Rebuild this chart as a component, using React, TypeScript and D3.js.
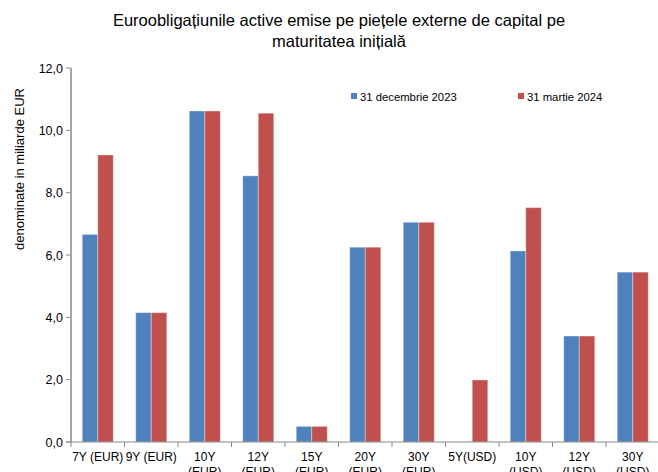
import React from "react";
import * as d3 from "d3";

const categories = ["7Y (EUR)", "9Y (EUR)", "10Y (EUR)", "12Y (EUR)", "15Y (EUR)", "20Y (EUR)", "30Y (EUR)", "5Y(USD)", "10Y (USD)", "12Y (USD)", "30Y (USD)"];
const categoryLines = [["7Y (EUR)"], ["9Y (EUR)"], ["10Y", "(EUR)"], ["12Y", "(EUR)"], ["15Y", "(EUR)"], ["20Y", "(EUR)"], ["30Y", "(EUR)"], ["5Y(USD)"], ["10Y", "(USD)"], ["12Y", "(USD)"], ["30Y", "(USD)"]];
const seriesNames = ["31 decembrie 2023", "31 martie 2024"];
const dec2023 = [6.66, 4.15, 10.62, 8.54, 0.5, 6.25, 7.05, 0, 6.13, 3.4, 5.45];
const mar2024 = [9.21, 4.15, 10.62, 10.55, 0.5, 6.25, 7.05, 1.99, 7.52, 3.4, 5.45];
const yTicks = [0, 2, 4, 6, 8, 10, 12];
const colors = ["#4F81BD", "#C0504D"];
const titleLines = ["Euroobligațiunile active emise pe piețele externe de capital pe", "maturitatea inițială"];
const yTitle = "denominate in miliarde EUR";

export default function App() {
  const W = 658, H = 472;
  const left = 71, right = 659.5, top = 68, bottom = 442;
  const font = "'Liberation Sans', Arial, sans-serif";
  const x0 = d3.scaleBand<string>().domain(categories).range([left, right]).paddingInner(0).paddingOuter(0);
  const x1 = d3.scaleBand<string>().domain(seriesNames).range([0, x0.bandwidth()]).paddingInner(0).paddingOuter(0.726);
  const y = d3.scaleLinear().domain([0, 12]).range([bottom, top]);
  const data = [dec2023, mar2024];
  const fmt = (v: number) => v.toFixed(1).replace(".", ",");
  const boundaries = categories.map((c) => x0(c)!).concat([right]);

  return (
    <svg width={W} height={H} style={{ position: "absolute", left: 0, top: 0, background: "#fff" }} fontFamily={font}>
      {titleLines.map((t, i) => (
        <text key={i} x={339} y={26 + i * 21} textAnchor="middle" fontSize={16.5} fill="#000">{t}</text>
      ))}
      <text transform={`translate(24,${169}) rotate(-90)`} textAnchor="middle" fontSize={13} fill="#000">{yTitle}</text>
      {yTicks.map((t) => (
        <g key={t}>
          <line x1={left - 5} x2={left} y1={y(t)} y2={y(t)} stroke="#888" strokeWidth={1} />
          <text x={left - 8} y={y(t) + 4.5} textAnchor="end" fontSize={12.5} fill="#000">{fmt(t)}</text>
        </g>
      ))}
      {categories.map((c, ci) => (
        <g key={c}>
          {seriesNames.map((s, si) => {
            const v = data[si][ci];
            if (v <= 0) return null;
            return (
              <rect key={s} x={x0(c)! + x1(s)!} y={y(v)} width={x1.bandwidth()} height={y(0) - y(v)}
                fill={colors[si]} stroke="rgba(255,255,255,0.35)" strokeWidth={1} />
            );
          })}
        </g>
      ))}
      <line x1={left} x2={left} y1={top} y2={bottom} stroke="#a6a6a6" strokeWidth={2} />
      <line x1={left - 5} x2={right} y1={bottom} y2={bottom} stroke="#888" strokeWidth={1} />
      {boundaries.map((b, i) => (
        <line key={i} x1={b} x2={b} y1={bottom} y2={bottom + 5} stroke="#888" strokeWidth={1} />
      ))}
      {categories.map((c, ci) => (
        <text key={c} x={x0(c)! + x0.bandwidth() / 2} y={461} textAnchor="middle" fontSize={12} fill="#000">
          {categoryLines[ci].map((l, li) => (
            <tspan key={li} x={x0(c)! + x0.bandwidth() / 2} dy={li === 0 ? 0 : 15}>{l}</tspan>
          ))}
        </text>
      ))}
      {seriesNames.map((s, si) => {
        const lx = si === 0 ? 351 : 518;
        return (
          <g key={s}>
            <rect x={lx} y={93} width={6} height={6} fill={colors[si]} />
            <text x={lx + 9} y={101} fontSize={11.3} fill="#000">{s}</text>
          </g>
        );
      })}
    </svg>
  );
}
